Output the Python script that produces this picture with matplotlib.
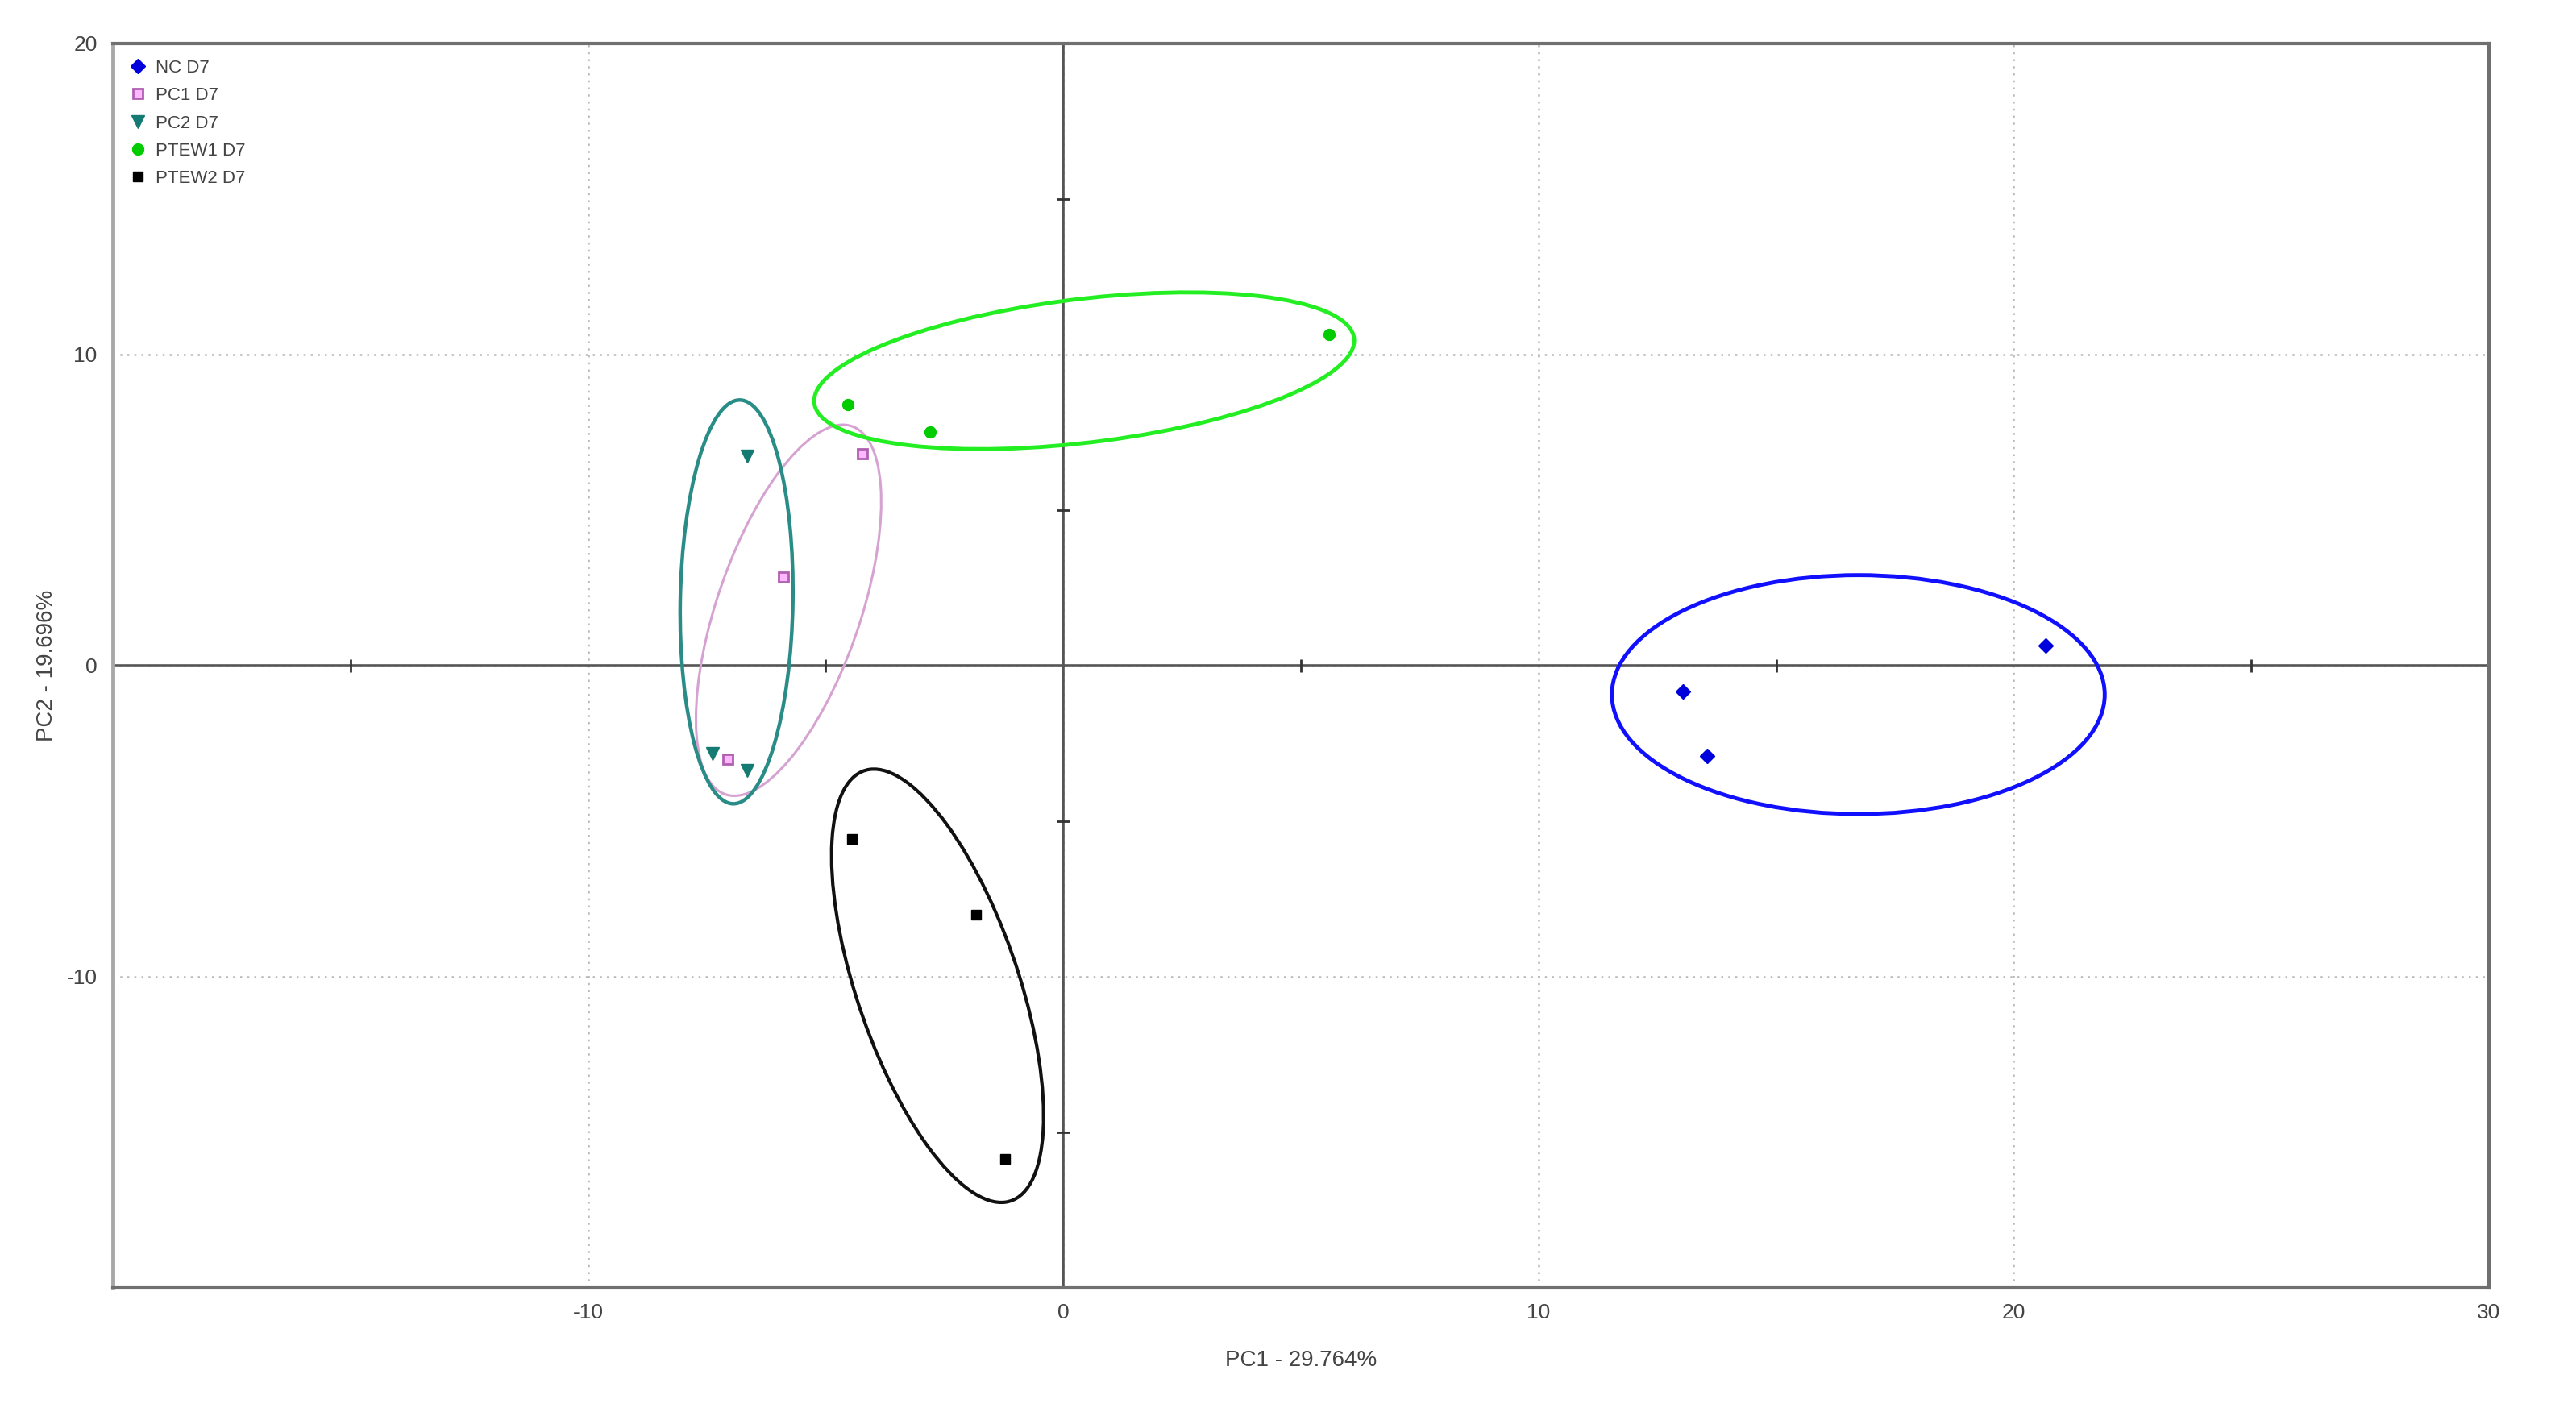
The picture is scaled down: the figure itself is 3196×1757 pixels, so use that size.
import matplotlib
matplotlib.use("Agg")
import matplotlib.pyplot as plt
from matplotlib.patches import Ellipse

plt.rcParams['font.family'] = ['Liberation Sans Narrow', 'Liberation Sans', 'DejaVu Sans']
plt.rcParams['axes.unicode_minus'] = False

# scores
groups = ["NC D7", "PC1 D7", "PC2 D7", "PTEW1 D7", "PTEW2 D7"]
nc_x = [20.68, 13.04, 13.55]
nc_y = [0.65, -0.84, -2.90]
pc1_x = [-4.23, -5.89, -7.06]
pc1_y = [6.80, 2.84, -3.00]
pc2_x = [-6.65, -7.38, -6.66]
pc2_y = [6.74, -2.82, -3.37]
ptew1_x = [5.60, -4.54, -2.80]
ptew1_y = [10.64, 8.39, 7.51]
ptew2_x = [-4.45, -1.84, -1.23]
ptew2_y = [-5.58, -8.01, -15.85]

# confidence ellipses: centre x, centre y, width, height, angle
ell_cx = [16.73, -5.78, -6.875, 0.44, -2.645]
ell_cy = [-0.93, 1.78, 2.05, 9.48, -10.29]
ell_w = [10.37, 12.16, 2.37, 11.56, 14.2]
ell_h = [7.68, 3.1, 12.98, 4.57, 3.5]
ell_ang = [0, 78.4, -0.6, 11.5, -78.4]
ell_col = ['#1010ff', '#d6a2d2', '#2a8c86', '#22ee22', '#111111']
ell_lw = [3.5, 2.2, 3.2, 3.5, 3.0]

xticks = [-10, 0, 10, 20, 30]
yticks = [-10, 0, 10, 20]
minor_x = [-15, -5, 5, 15, 25]
minor_y = [-15, -5, 5, 15]

fig = plt.figure(figsize=(31.96, 17.57), dpi=100)
ax = fig.add_axes([0.0438, 0.0905, 0.9224, 0.8788])
ax.set_xlim(-20, 30)
ax.set_ylim(-20, 20)

ax.set_xticks(xticks)
ax.set_yticks(yticks)
ax.tick_params(length=0, labelsize=19, colors='#444444', pad=14)
ax.grid(True, linestyle=(0, (1, 2.5)), color='#b8b8b8', linewidth=1.8)
ax.set_axisbelow(True)

for s in ['top', 'right', 'bottom']:
    ax.spines[s].set_color('#707070')
    ax.spines[s].set_linewidth(3)
ax.spines['left'].set_color('#a8a8a8')
ax.spines['left'].set_linewidth(3.5)

ax.axhline(0, color='#555555', lw=2.6, zorder=1)
ax.axvline(0, color='#555555', lw=2.6, zorder=1)
ax.plot(minor_x, [0] * len(minor_x), ls='none', marker='|', ms=12, mew=2, color='#333333', zorder=1)
ax.plot([0] * len(minor_y), minor_y, ls='none', marker='_', ms=12, mew=2, color='#333333', zorder=1)

for i in range(len(ell_cx)):
    ax.add_patch(Ellipse((ell_cx[i], ell_cy[i]), ell_w[i], ell_h[i], angle=ell_ang[i],
                         fill=False, edgecolor=ell_col[i], lw=ell_lw[i], zorder=2))

ax.plot(nc_x, nc_y, 'D', color='#0000dd', ms=9, ls='none', label=groups[0], zorder=3)
ax.plot(pc1_x, pc1_y, 's', mfc='#ffb8ff', mec='#b060b0', mew=2, ms=9, ls='none', label=groups[1], zorder=3)
ax.plot(pc2_x, pc2_y, 'v', color='#157a72', ms=11, ls='none', label=groups[2], zorder=3)
ax.plot(ptew1_x, ptew1_y, 'o', color='#00cc00', ms=10, ls='none', label=groups[3], zorder=3)
ax.plot(ptew2_x, ptew2_y, 's', color='#000000', ms=9, ls='none', label=groups[4], zorder=3)

leg = ax.legend(loc='upper left', frameon=False, fontsize=16, handletextpad=0.5,
                labelspacing=0.6, borderaxespad=0.5, handlelength=1.0,
                bbox_to_anchor=(0.0, 1.0))
for t in leg.get_texts():
    t.set_color('#444444')

ax.set_xlabel("PC1 - 29.764%", fontsize=20, color='#444444', labelpad=24)
ax.set_ylabel("PC2 - 19.696%", fontsize=20, color='#444444', labelpad=8)

fig.savefig("out.png", dpi=100)
